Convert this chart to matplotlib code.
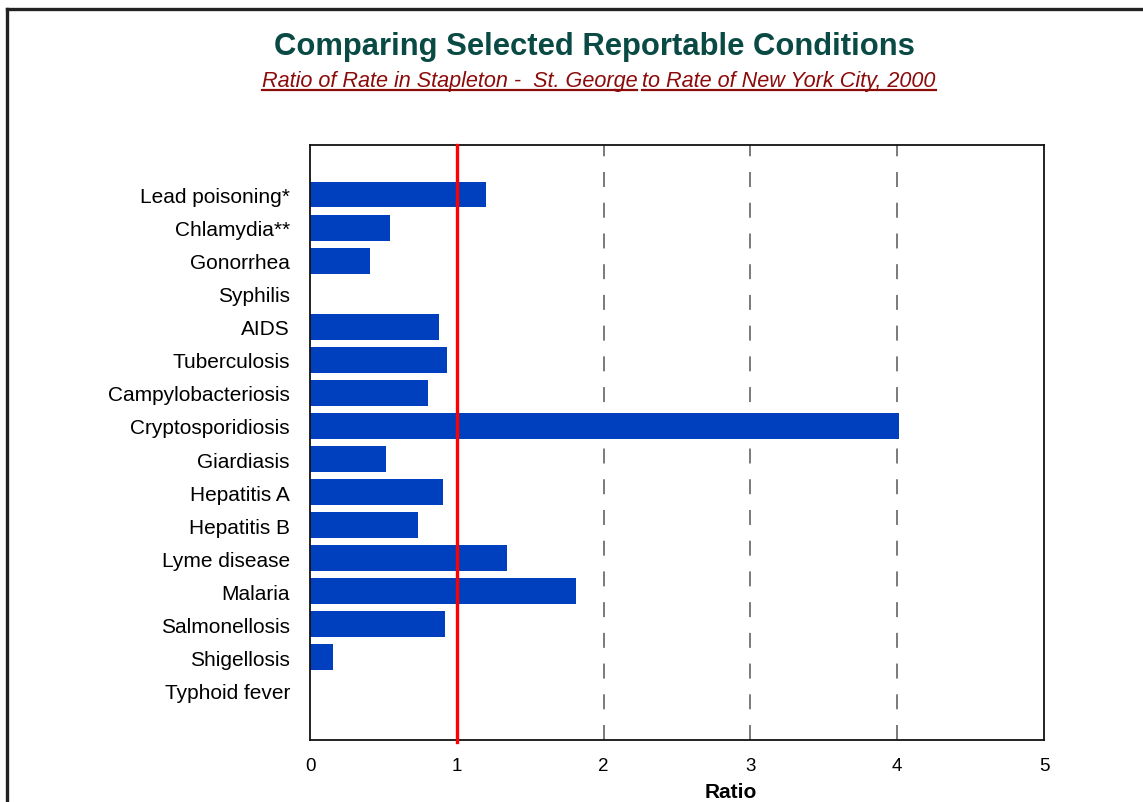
import matplotlib
matplotlib.use("Agg")
import matplotlib.pyplot as plt
from matplotlib.lines import Line2D

plt.rcParams['font.family'] = ['Liberation Sans', 'DejaVu Sans']

conditions = ["Lead poisoning*", "Chlamydia**", "Gonorrhea", "Syphilis", "AIDS",
              "Tuberculosis", "Campylobacteriosis", "Cryptosporidiosis", "Giardiasis",
              "Hepatitis A", "Hepatitis B", "Lyme disease", "Malaria", "Salmonellosis",
              "Shigellosis", "Typhoid fever"]
ratios = [1.20, 0.545, 0.41, 0.0, 0.877, 0.933, 0.806, 4.01, 0.515,
          0.908, 0.738, 1.34, 1.815, 0.917, 0.159, 0.0]
x_ticks = [0, 1, 2, 3, 4, 5]
grid_at = [2, 3, 4]
reference_ratio = 1

title = "Comparing Selected Reportable Conditions"
subtitle_parts = ["Ratio of Rate in Stapleton -  St. George", "to Rate of New York City, 2000"]
x_label = "Ratio"

W, H = 1143, 803
fig = plt.figure(figsize=(W / 100, H / 100), dpi=100)
fig.patch.set_facecolor('white')

# outer frame (top and left edges visible)
fig.add_artist(Line2D([6.5 / W, 6.5 / W], [0, 1 - 10 / H], transform=fig.transFigure,
                      color='#222222', lw=2.4, solid_capstyle='projecting'))
fig.add_artist(Line2D([6.5 / W, 1.0], [1 - 10 / H, 1 - 10 / H], transform=fig.transFigure,
                      color='#222222', lw=2.4, solid_capstyle='projecting'))

ax = fig.add_axes([310 / W, (H - 741) / H, (1044 - 310) / W, (741 - 146) / H])
ypos = list(range(len(conditions)))
ax.barh(ypos, ratios, height=0.78, color='#0040BF', zorder=2)

for g in grid_at:
    ax.axvline(g, color='#7a7a7a', lw=1.4, dashes=(7.7, 8.1), zorder=1)
ax.axvline(reference_ratio, color='#FF0000', lw=2.4, zorder=3, clip_on=False,
           ymin=-0.004, ymax=1.0)

ax.set_xlim(0, 5)
ax.set_ylim(len(conditions) - 0.5 + 1, -1.5)
ax.set_xticks(x_ticks)
ax.set_xticklabels([str(t) for t in x_ticks], fontsize=13.5)
ax.set_yticks(ypos)
ax.set_yticklabels(conditions, fontsize=15)
ax.tick_params(axis='both', length=0)
ax.tick_params(axis='x', pad=12)
ax.tick_params(axis='y', pad=14.4)
for s in ax.spines.values():
    s.set_linewidth(1.3)
    s.set_color('#111111')

fig.text(731 / W, 1 - 793 / H, x_label, ha='center', va='center',
         fontsize=15, fontweight='bold')

fig.text(594 / W, 1 - 47 / H, title, ha='center', va='center',
         fontsize=22.3, fontweight='bold', color='#0A4A44')

# subtitle, underlined piece by piece
sub_color = '#8B0A0A'
renderer = fig.canvas.get_renderer()
t1 = fig.text(0, 1 - 82 / H, subtitle_parts[0], ha='left', va='center',
              fontsize=15.6, style='italic', color=sub_color)
t2 = fig.text(0, 1 - 82 / H, subtitle_parts[1], ha='left', va='center',
              fontsize=15.6, style='italic', color=sub_color)
b1 = t1.get_window_extent(renderer)
b2 = t2.get_window_extent(renderer)
gap = 5
total = b1.width + gap + b2.width
start = 598.5 - total / 2
t1.set_x(start / W)
t2.set_x((start + b1.width + gap) / W)
uy = 1 - 90.5 / H
for x0, w in [(start, b1.width), (start + b1.width + gap, b2.width)]:
    fig.add_artist(Line2D([x0 / W, (x0 + w) / W], [uy, uy], transform=fig.transFigure,
                          color=sub_color, lw=1.6))

fig.savefig("out.png", dpi=100)
